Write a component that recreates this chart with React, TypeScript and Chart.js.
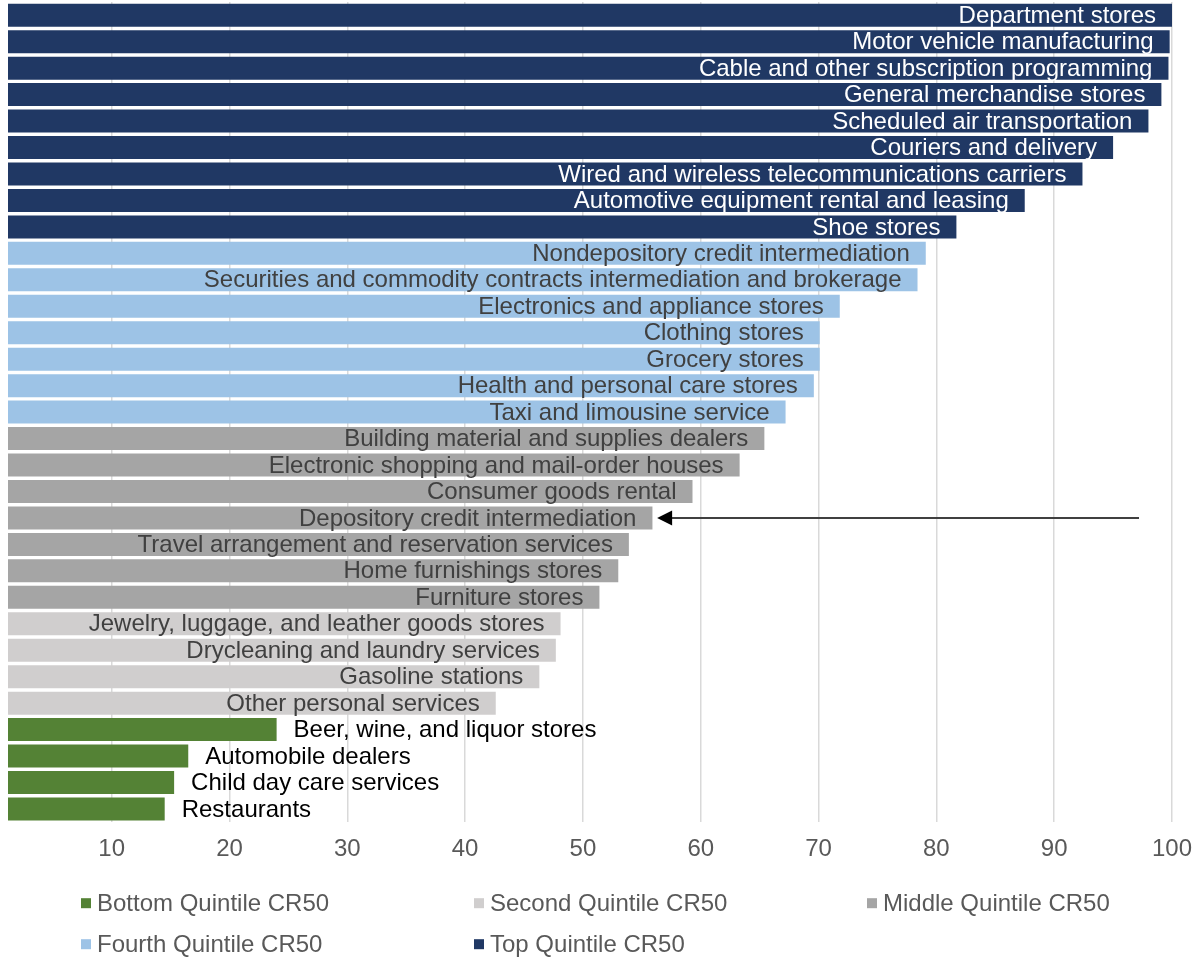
import React, { useEffect, useRef } from "react";
import { Chart, registerables } from "chart.js";

Chart.register(...registerables);

const topLabels = [
  "Department stores",
  "Motor vehicle manufacturing",
  "Cable and other subscription programming",
  "General merchandise stores",
  "Scheduled air transportation",
  "Couriers and delivery",
  "Wired and wireless telecommunications carriers",
  "Automotive equipment rental and leasing",
  "Shoe stores",
];
const topValues = [100, 99.8, 99.7, 99.1, 98.0, 95.0, 92.4, 87.5, 81.7];

const fourthLabels = [
  "Nondepository credit intermediation",
  "Securities and commodity contracts intermediation and brokerage",
  "Electronics and appliance stores",
  "Clothing stores",
  "Grocery stores",
  "Health and personal care stores",
  "Taxi and limousine service",
];
const fourthValues = [79.1, 78.4, 71.8, 70.1, 70.1, 69.6, 67.2];

const middleLabels = [
  "Building material and supplies dealers",
  "Electronic shopping and mail-order houses",
  "Consumer goods rental",
  "Depository credit intermediation",
  "Travel arrangement and reservation services",
  "Home furnishings stores",
  "Furniture stores",
];
const middleValues = [65.4, 63.3, 59.3, 55.9, 53.9, 53.0, 51.4];

const secondLabels = [
  "Jewelry, luggage, and leather goods stores",
  "Drycleaning and laundry services",
  "Gasoline stations",
  "Other personal services",
];
const secondValues = [48.1, 47.7, 46.3, 42.6];

const bottomLabels = [
  "Beer, wine, and liquor stores",
  "Automobile dealers",
  "Child day care services",
  "Restaurants",
];
const bottomValues = [24.0, 16.5, 15.3, 14.5];

const xTicks = [10, 20, 30, 40, 50, 60, 70, 80, 90, 100];
const xMin = 1.2;
const xMax = 100;

const arrowCategory = "Depository credit intermediation";
const arrowFrom = 97.2;
const arrowTo = 56.3;

const FONT = '"Liberation Sans", Arial, Helvetica, sans-serif';
const FSIZE = 24;

// legend order: Bottom, Second, Middle, Fourth, Top
const groups = [
  { name: "Bottom Quintile CR50", labels: bottomLabels, values: bottomValues, color: "#548235", text: "#000000", outside: true },
  { name: "Second Quintile CR50", labels: secondLabels, values: secondValues, color: "#D0CECE", text: "#404040", outside: false },
  { name: "Middle Quintile CR50", labels: middleLabels, values: middleValues, color: "#A5A5A5", text: "#404040", outside: false },
  { name: "Fourth Quintile CR50", labels: fourthLabels, values: fourthValues, color: "#9DC3E6", text: "#404040", outside: false },
  { name: "Top Quintile CR50", labels: topLabels, values: topValues, color: "#203864", text: "#FFFFFF", outside: false },
];

const categories = [...topLabels, ...fourthLabels, ...middleLabels, ...secondLabels, ...bottomLabels];

const overlayPlugin = {
  id: "overlay",
  afterDatasetsDraw(chart: any) {
    const { ctx, scales, chartArea } = chart;
    const x = scales.x;
    const y = scales.y;
    ctx.save();
    ctx.font = `${FSIZE}px ${FONT}`;
    ctx.textBaseline = "middle";
    groups.forEach((g) => {
      g.labels.forEach((lab, k) => {
        const idx = categories.indexOf(lab);
        const xv = x.getPixelForValue(g.values[k]);
        const yv = y.getPixelForValue(idx) + 1;
        ctx.fillStyle = g.text;
        if (g.outside) {
          ctx.textAlign = "left";
          ctx.fillText(lab, xv + 17, yv);
        } else {
          ctx.textAlign = "right";
          ctx.fillText(lab, xv - 16, yv);
        }
      });
    });

    // arrow
    const ai = categories.indexOf(arrowCategory);
    const ay = y.getPixelForValue(ai);
    const x1 = x.getPixelForValue(arrowFrom);
    const x2 = x.getPixelForValue(arrowTo);
    ctx.strokeStyle = "#404040";
    ctx.lineWidth = 2;
    ctx.beginPath();
    ctx.moveTo(x1, ay);
    ctx.lineTo(x2 + 12, ay);
    ctx.stroke();
    ctx.fillStyle = "#000000";
    ctx.beginPath();
    ctx.moveTo(x2, ay);
    ctx.lineTo(x2 + 15, ay - 7.5);
    ctx.lineTo(x2 + 15, ay + 7.5);
    ctx.closePath();
    ctx.fill();

    // legend
    const colW = 393;
    const startX = 81;
    const rowY = [chartArea.bottom + 81, chartArea.bottom + 122];
    ctx.font = `${FSIZE}px ${FONT}`;
    ctx.textAlign = "left";
    ctx.textBaseline = "middle";
    groups.forEach((g, i) => {
      const r = Math.floor(i / 3);
      const c = i % 3;
      const lx = startX + c * colW;
      const ly = rowY[r];
      ctx.fillStyle = g.color;
      ctx.fillRect(lx, ly - 5, 10, 10);
      ctx.fillStyle = "#595959";
      ctx.fillText(g.name, lx + 16, ly + 1);
    });
    ctx.restore();
  },
};

export default function App() {
  const ref = useRef<HTMLCanvasElement | null>(null);
  useEffect(() => {
    if (!ref.current) return;
    const datasets = groups.map((g) => ({
      label: g.name,
      data: categories.map((c) => {
        const k = g.labels.indexOf(c);
        return k >= 0 ? g.values[k] : null;
      }),
      backgroundColor: g.color,
      borderWidth: 0,
      barPercentage: 0.87,
      categoryPercentage: 1,
    }));
    const chart = new Chart(ref.current, {
      type: "bar",
      data: { labels: categories, datasets },
      plugins: [overlayPlugin],
      options: {
        indexAxis: "y",
        animation: false,
        responsive: false,
        maintainAspectRatio: false,
        layout: { padding: { left: 8, right: 28, top: 2, bottom: 80 } },
        plugins: {
          legend: { display: false },
          tooltip: { enabled: false },
          title: { display: false },
        },
        scales: {
          y: {
            type: "category",
            stacked: true,
            display: false,
            grid: { display: false },
          },
          x: {
            type: "linear",
            stacked: true,
            min: xMin,
            max: xMax,
            afterBuildTicks: (scale: any) => {
              scale.ticks = xTicks.map((v) => ({ value: v }));
            },
            afterFit: (scale: any) => {
              scale.paddingLeft = 0;
              scale.paddingRight = 0;
            },
            border: { display: false },
            grid: { color: "#D9D9D9", lineWidth: 1.5, drawTicks: false },
            ticks: {
              color: "#595959",
              font: { family: FONT, size: FSIZE },
              padding: 13,
              maxRotation: 0,
              autoSkip: false,
            },
          },
        },
      } as any,
    });
    return () => chart.destroy();
  }, []);
  return (
    <div style={{ position: "absolute", left: 0, top: 0, width: 1200, height: 957, background: "#fff" }}>
      <canvas ref={ref} width={1200} height={957} />
    </div>
  );
}
